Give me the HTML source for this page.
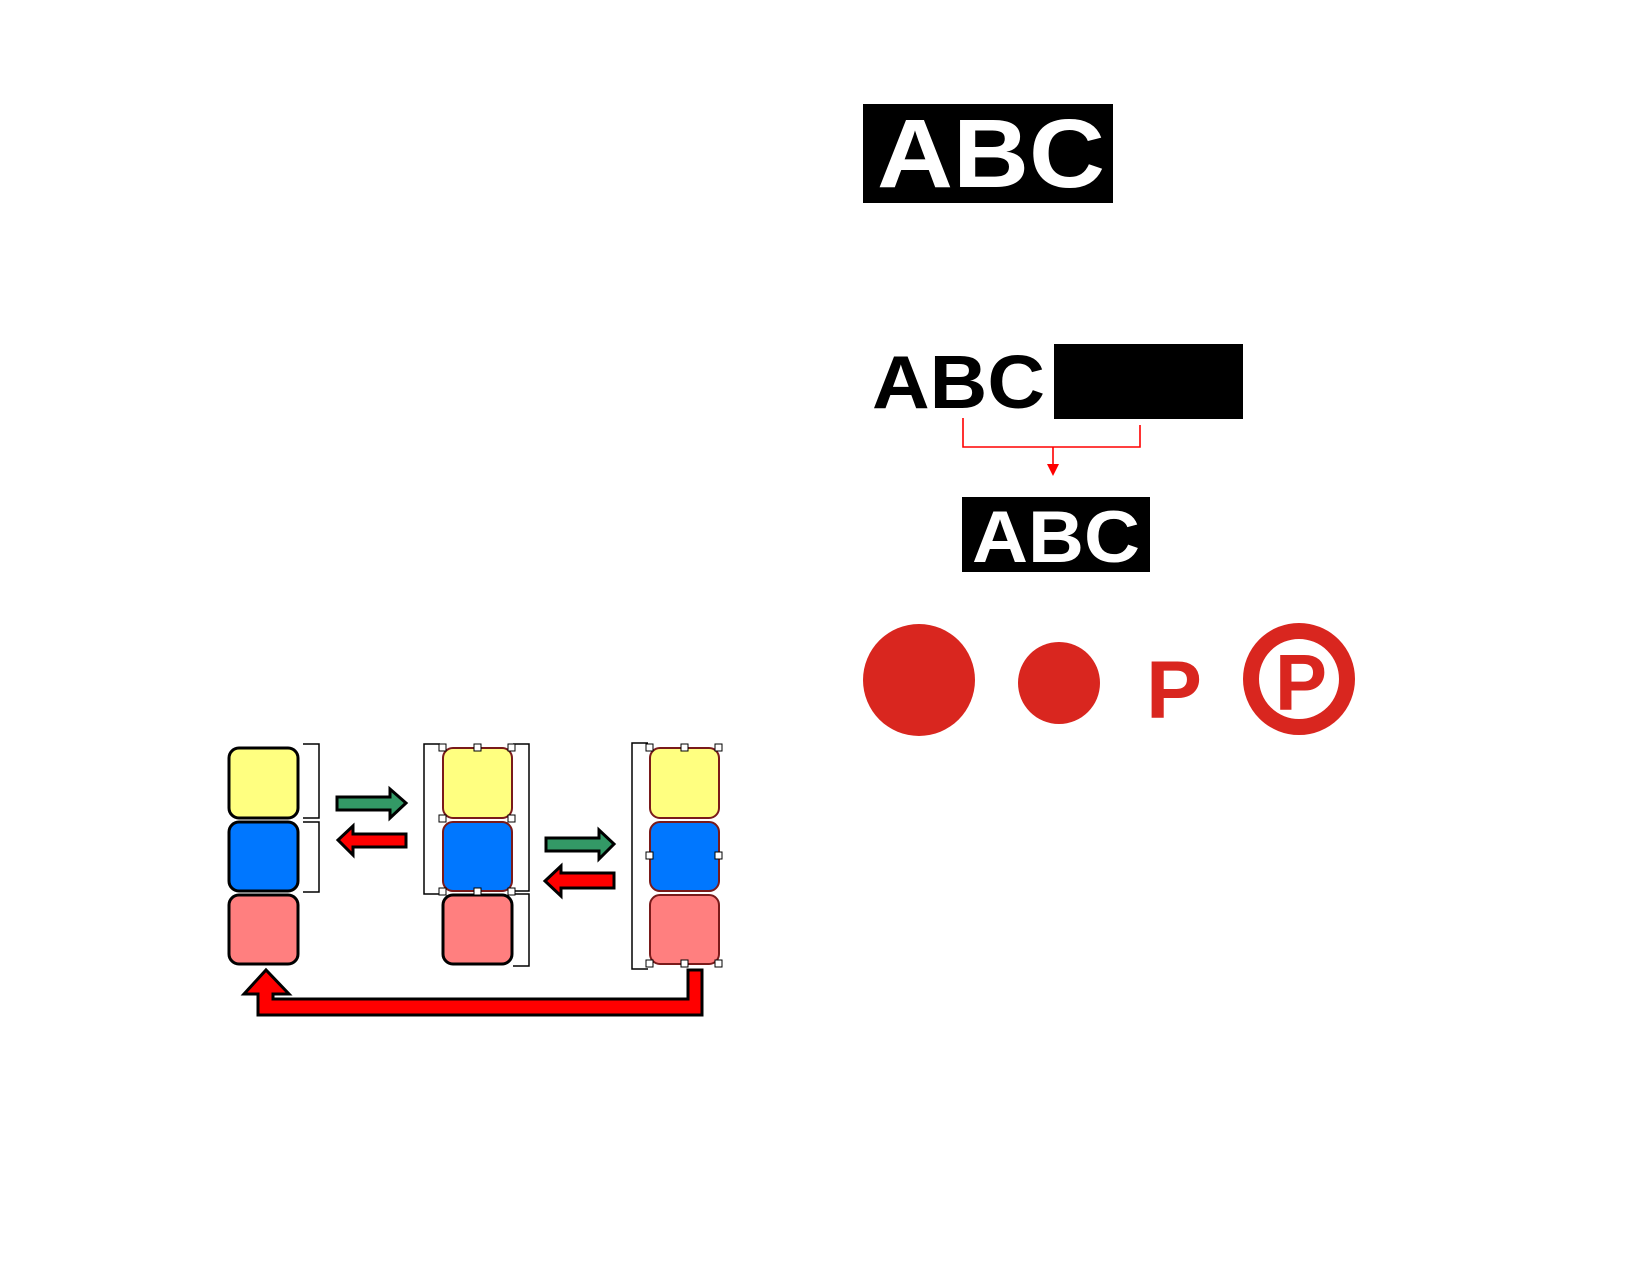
<!DOCTYPE html>
<html><head><meta charset="utf-8"><style>html,body{margin:0;padding:0;background:#fff}svg{display:block}</style></head>
<body>
<svg width="1650" height="1275" viewBox="0 0 1650 1275" xmlns="http://www.w3.org/2000/svg" font-family="Liberation Sans, Arial, sans-serif" font-weight="bold">
<rect width="1650" height="1275" fill="#fff"/>
<!-- top ABC box -->
<rect x="863" y="104" width="250" height="99" fill="#000"/>
<text x="877" y="187" font-size="97" fill="#fff" textLength="228" lengthAdjust="spacingAndGlyphs">ABC</text>
<!-- middle ABC -->
<text x="872" y="408" font-size="75" fill="#000" textLength="173" lengthAdjust="spacingAndGlyphs">ABC</text>
<rect x="1054" y="344" width="189" height="75" fill="#000"/>
<path d="M963 418 V447 H1140 V425 M1053 447 V466" stroke="#f00" stroke-width="1.6" fill="none"/>
<polygon points="1047,464 1059,464 1053,476" fill="#f00"/>
<rect x="962" y="497" width="188" height="75" fill="#000"/>
<text x="972" y="562" font-size="73" fill="#fff" textLength="168" lengthAdjust="spacingAndGlyphs">ABC</text>
<!-- red shapes -->
<circle cx="919" cy="680" r="56" fill="#d9261f"/>
<circle cx="1059" cy="683" r="41" fill="#d9261f"/>
<text x="1146" y="718" font-size="82" fill="#d9261f" textLength="56" lengthAdjust="spacingAndGlyphs">P</text>
<circle cx="1299" cy="679" r="48" fill="none" stroke="#d9261f" stroke-width="16"/>
<text x="1275" y="710" font-size="80" fill="#d9261f" textLength="52" lengthAdjust="spacingAndGlyphs">P</text>
<!-- columns -->
<g stroke="#000" stroke-width="3">
<rect x="229" y="748" width="69" height="70" rx="10" fill="#ffff80"/>
<rect x="229" y="822" width="69" height="69" rx="10" fill="#0077ff"/>
<rect x="229" y="895" width="69" height="69" rx="10" fill="#ff7f7f"/>
</g>
<g stroke="#7a1a1a" stroke-width="2">
<rect x="443" y="748" width="69" height="70" rx="10" fill="#ffff80"/>
<rect x="443" y="822" width="69" height="69" rx="10" fill="#0077ff"/>
<rect x="650" y="748" width="69" height="70" rx="10" fill="#ffff80"/>
<rect x="650" y="822" width="69" height="69" rx="10" fill="#0077ff"/>
<rect x="650" y="895" width="69" height="69" rx="10" fill="#ff7f7f"/>
</g>
<rect x="443" y="895" width="69" height="69" rx="10" fill="#ff7f7f" stroke="#000" stroke-width="3"/>
<!-- brackets -->
<g stroke="#000" stroke-width="1.5" fill="none">
<path d="M303 744 H319 V818 H303"/>
<path d="M303 822 H319 V892 H303"/>
<path d="M440 744 H424 V894 H440"/>
<path d="M513 744 H529 V891 H513"/>
<path d="M513 894 H529 V966 H513"/>
<path d="M648 743 H632 V969 H648"/>
</g>
<!-- handles -->
<g fill="#fff" stroke="#000" stroke-width="1">
<rect x="439" y="744" width="7" height="7"/><rect x="474" y="744" width="7" height="7"/><rect x="508" y="744" width="7" height="7"/>
<rect x="439" y="815" width="7" height="7"/><rect x="508" y="815" width="7" height="7"/>
<rect x="439" y="888" width="7" height="7"/><rect x="474" y="888" width="7" height="7"/><rect x="508" y="888" width="7" height="7"/>
<rect x="646" y="744" width="7" height="7"/><rect x="681" y="744" width="7" height="7"/><rect x="715" y="744" width="7" height="7"/>
<rect x="646" y="852" width="7" height="7"/><rect x="715" y="852" width="7" height="7"/>
<rect x="646" y="960" width="7" height="7"/><rect x="681" y="960" width="7" height="7"/><rect x="715" y="960" width="7" height="7"/>
</g>
<!-- arrows -->
<g stroke="#000" stroke-width="3" stroke-linejoin="miter">
<polygon points="337,797 390,797 390,789 406,803 390,818 390,810 337,810" fill="#339966"/>
<polygon points="406,834 353,834 353,826 338,840 353,855 353,847 406,847" fill="#f00"/>
<polygon points="546,838 599,838 599,830 614,844 599,859 599,851 546,851" fill="#339966"/>
<polygon points="614,873 561,873 561,866 545,881 561,896 561,888 614,888" fill="#f00"/>
<polygon points="688,970 702,970 702,1015 258,1015 258,994 244,994 266,970 289,994 273,994 273,999 688,999" fill="#f00"/>
</g>
</svg>
</body></html>
